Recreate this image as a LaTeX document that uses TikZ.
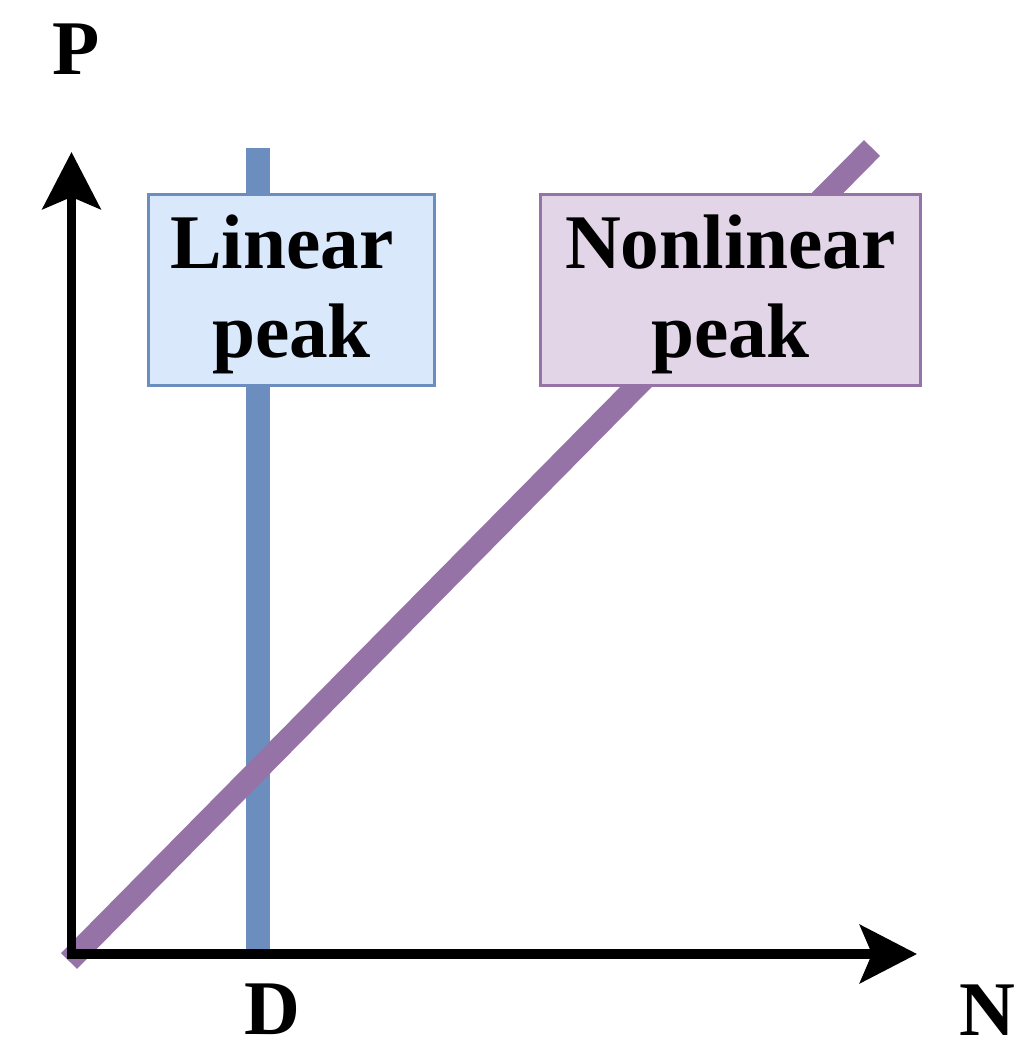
\documentclass[tikz,border=0pt]{standalone}
\usepackage{fontspec}
\setmainfont{Liberation Serif}
\usetikzlibrary{arrows.meta}
\definecolor{peakblue}{HTML}{6C8EBF}
\definecolor{peakbluefill}{HTML}{DAE8FC}
\definecolor{peakpurple}{HTML}{9673A6}
\definecolor{peakpurplefill}{HTML}{E1D5E7}
\tikzset{
  bigfont/.style={font=\fontsize{44pt}{50.6pt}\selectfont\bfseries, inner sep=0pt},
  peakbox/.style={draw=#1, line width=0.06cm, minimum height=3.82cm, inner sep=0pt},
  peaktext/.style={bigfont, align=center},
  axis/.style={line width=0.19cm, >={Stealth[length=1.14cm, width=1.16cm, inset=0.24cm]}, <->}
}
\begin{document}
\begin{tikzpicture}[x=0.02cm, y=-0.02cm]
	\useasboundingbox (0,0) rectangle (1031,1040);
	\coordinate (O) at (71.5,954);
	\coordinate (ytop) at (71.5,152);
	\coordinate (xend) at (917,954);
	% linear peak line
	\coordinate (d top) at (258,148);
	\coordinate (d bot) at (258,954);
	\draw [peakblue, line width=0.48cm] (d top) -- (d bot);
	% nonlinear peak line
	\coordinate (n bot) at (69,961);
	\coordinate (n top) at (872,148);
	\draw [peakpurple, line width=0.45cm] (n bot) -- (n top);
	% boxes
	\node [peakbox=peakblue, fill=peakbluefill, minimum width=5.72cm] (linear) at (291.5,290) {};
	\node [peaktext] (linear text) at ([yshift=-0.09cm]linear.center) {Linear\hspace*{0.25em}\\peak};
	\node [peakbox=peakpurple, fill=peakpurplefill, minimum width=7.6cm] (nonlinear) at (730.5,290) {};
	\node [peaktext] (nonlinear text) at ([yshift=-0.09cm]nonlinear.center) {Nonlinear\\peak};
	% axes
	\draw [axis] (ytop) -- (O) -- (xend);
	\node [bigfont, anchor=base] (P) at (76,75) {P};
	\node [bigfont, anchor=base] (D) at (272.5,1034) {D};
	\node [bigfont, anchor=base] (N) at (987,1035) {N};
\end{tikzpicture}
\end{document}
